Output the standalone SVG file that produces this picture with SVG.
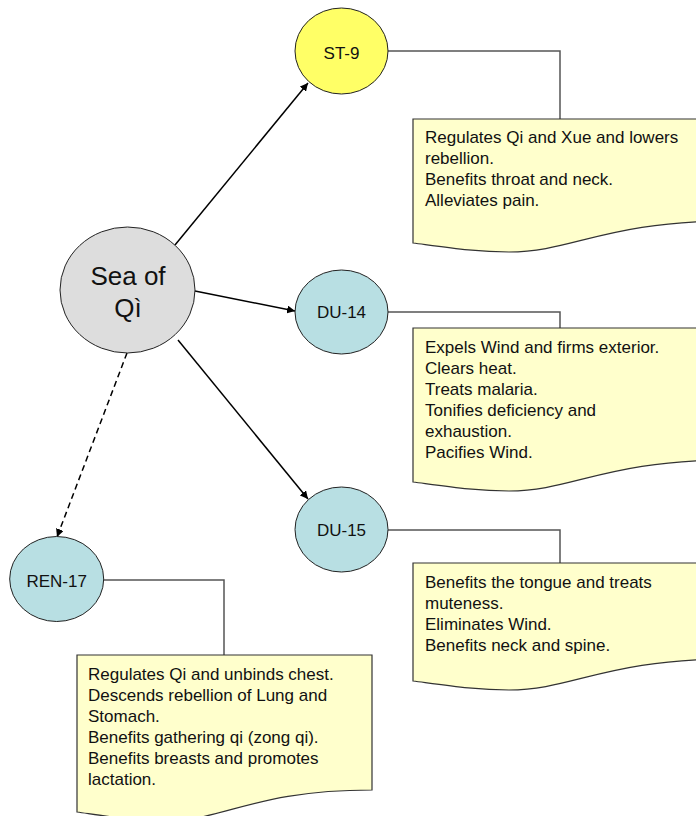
<svg xmlns="http://www.w3.org/2000/svg" width="696" height="816" viewBox="0 0 696 816">
<style>
  .node { stroke: #222; stroke-width: 1; }
  .lbl { font-family: "Liberation Sans", Arial, sans-serif; font-size: 17px; fill: #111; text-anchor: middle; }
  .big { font-size: 26px; }
  .note { fill: #FFFFCC; stroke: #333; stroke-width: 1.2; }
  .ntxt { font-family: "Liberation Sans", Arial, sans-serif; font-size: 17px; fill: #111; }
  .link { fill: none; stroke: #555; stroke-width: 1.5; }
  .arrow { fill: none; stroke: #000; stroke-width: 1.5; marker-end: url(#ah); }
  .dash { stroke-dasharray: 6 4; }
</style>
<defs>
  <marker id="ah" viewBox="0 0 10 10" refX="10" refY="5" markerWidth="8" markerHeight="8" markerUnits="userSpaceOnUse" orient="auto">
    <path d="M0,0 L10,5 L0,10 z" fill="#000"/>
  </marker>
</defs>
<rect width="696" height="816" fill="#fff"/>

<g id="connectors">
  <line class="arrow" x1="175" y1="245" x2="308" y2="83"/>
  <line class="arrow" x1="195" y1="291" x2="295" y2="311"/>
  <line class="arrow" x1="178" y1="340" x2="308" y2="499"/>
  <line class="arrow dash" x1="127" y1="353" x2="57" y2="537"/>
  <polyline class="link" points="388,51 560,51 560,119"/>
  <polyline class="link" points="388,312 560,312 560,328"/>
  <polyline class="link" points="388,530 560,530 560,563"/>
  <polyline class="link" points="104,580 224,580 224,655"/>
</g>

<g id="sea-of-qi">
  <ellipse class="node" cx="127.5" cy="290" rx="67.5" ry="63" fill="#DDDDDD"/>
  <text class="lbl big" x="128" y="285">Sea of</text>
  <text class="lbl big" x="128" y="317">Qì</text>
</g>

<g id="st-9">
  <ellipse class="node" cx="341.5" cy="51" rx="46.5" ry="43" fill="#FFFF66"/>
  <text class="lbl" x="341.5" y="59">ST-9</text>
</g>

<g id="du-14">
  <ellipse class="node" cx="341.5" cy="312" rx="46.5" ry="42" fill="#B8DFE3"/>
  <text class="lbl" x="341.5" y="318">DU-14</text>
</g>

<g id="du-15">
  <ellipse class="node" cx="341.5" cy="529.5" rx="46.5" ry="42.5" fill="#B8DFE3"/>
  <text class="lbl" x="341.5" y="536">DU-15</text>
</g>

<g id="ren-17">
  <ellipse class="node" cx="56.7" cy="579" rx="47" ry="42.5" fill="#B8DFE3"/>
  <text class="lbl" x="56.7" y="587">REN-17</text>
</g>

<g id="note-st-9">
  <path class="note" d="M413,119 H733 V221 C605,221 573,252 509,252 C477,252 451,248 413,243 Z"/>
  <text class="ntxt" x="425" y="143">Regulates Qi and Xue and lowers</text>
  <text class="ntxt" x="425" y="164">rebellion.</text>
  <text class="ntxt" x="425" y="185">Benefits throat and neck.</text>
  <text class="ntxt" x="425" y="206">Alleviates pain.</text>
</g>

<g id="note-du-14">
  <path class="note" d="M413,328 H733 V460 C605,460 573,491 509,491 C477,491 451,487 413,482 Z"/>
  <text class="ntxt" x="425" y="353">Expels Wind and firms exterior.</text>
  <text class="ntxt" x="425" y="374">Clears heat.</text>
  <text class="ntxt" x="425" y="395">Treats malaria.</text>
  <text class="ntxt" x="425" y="416">Tonifies deficiency and</text>
  <text class="ntxt" x="425" y="437">exhaustion.</text>
  <text class="ntxt" x="425" y="458">Pacifies Wind.</text>
</g>

<g id="note-du-15">
  <path class="note" d="M413,563 H733 V659 C605,659 573,690 509,690 C477,690 451,686 413,681 Z"/>
  <text class="ntxt" x="425" y="588">Benefits the tongue and treats</text>
  <text class="ntxt" x="425" y="609">muteness.</text>
  <text class="ntxt" x="425" y="630">Eliminates Wind.</text>
  <text class="ntxt" x="425" y="651">Benefits neck and spine.</text>
</g>

<g id="note-ren-17">
  <path class="note" d="M77,655 H372 V790 C254,790 224,821 165,821 C136,821 112,817 77,812 Z"/>
  <text class="ntxt" x="88" y="680">Regulates Qi and unbinds chest.</text>
  <text class="ntxt" x="88" y="701">Descends rebellion of Lung and</text>
  <text class="ntxt" x="88" y="722">Stomach.</text>
  <text class="ntxt" x="88" y="743">Benefits gathering qi (zong qi).</text>
  <text class="ntxt" x="88" y="764">Benefits breasts and promotes</text>
  <text class="ntxt" x="88" y="785">lactation.</text>
</g>
</svg>
